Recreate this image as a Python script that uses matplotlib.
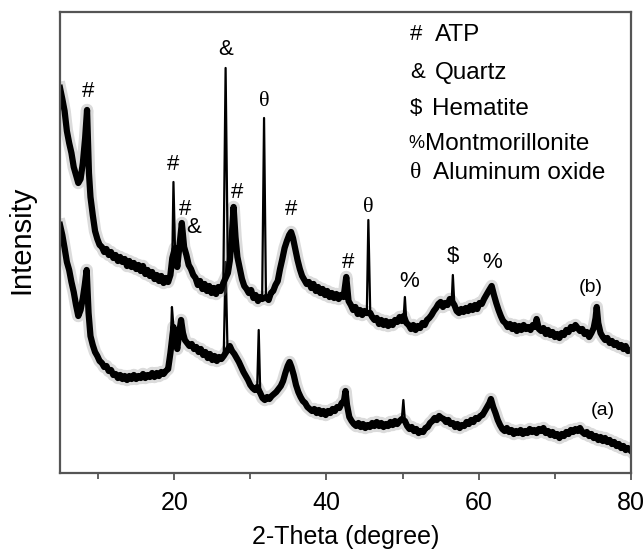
import matplotlib
matplotlib.use("Agg")
import matplotlib.pyplot as plt
from matplotlib.ticker import MultipleLocator

plt.rcParams["font.family"] = ["Liberation Sans", "DejaVu Sans"]

# XRD pattern (b), 2-theta in degree and intensity (a.u.)
theta_b = [5.0, 5.3, 5.6, 5.9, 6.2, 6.5, 6.8, 7.1, 7.4, 7.7,
           8.0, 8.3, 8.55, 8.8, 9.0, 9.3, 9.6, 9.9, 10.2, 10.5,
           10.8, 11.1, 11.4, 11.7, 12.0, 12.3, 12.6, 12.9, 13.2, 13.5,
           13.8, 14.1, 14.4, 14.7, 15.0, 15.3, 15.6, 15.9, 16.2, 16.5,
           16.8, 17.1, 17.4, 17.7, 18.0, 18.3, 18.6, 18.9, 19.2, 19.5,
           19.75, 19.9, 20.1, 20.4, 20.7, 21.0, 21.3, 21.6, 21.9, 22.2,
           22.5, 22.8, 23.1, 23.4, 23.7, 24.0, 24.3, 24.6, 24.9, 25.2,
           25.5, 25.8, 26.1, 26.45, 26.75, 27.05, 27.3, 27.55, 27.8, 28.05,
           28.3, 28.6, 28.9, 29.2, 29.5, 29.8, 30.1, 30.4, 30.7, 31.0,
           31.3, 31.55, 31.8, 32.05, 32.4, 32.7, 33.0, 33.3, 33.6, 33.9,
           34.2, 34.5, 34.8, 35.1, 35.35, 35.6, 35.9, 36.2, 36.5, 36.8,
           37.1, 37.4, 37.7, 38.0, 38.3, 38.6, 38.9, 39.2, 39.5, 39.8,
           40.1, 40.4, 40.7, 41.0, 41.3, 41.6, 41.9, 42.25, 42.6, 42.9,
           43.2, 43.5, 43.8, 44.1, 44.4, 44.7, 45.0, 45.3, 45.5, 45.75,
           46.0, 46.3, 46.6, 46.9, 47.2, 47.5, 47.8, 48.1, 48.4, 48.7,
           49.0, 49.3, 49.6, 49.9, 50.15, 50.3, 50.5, 50.8, 51.1, 51.4,
           51.7, 52.0, 52.3, 52.6, 52.9, 53.2, 53.5, 53.8, 54.1, 54.4,
           54.7, 55.0, 55.3, 55.6, 55.9, 56.2, 56.45, 56.6, 56.8, 57.1,
           57.4, 57.7, 58.0, 58.3, 58.6, 58.9, 59.2, 59.5, 59.8, 60.1,
           60.4, 60.7, 61.0, 61.3, 61.7, 62.0, 62.3, 62.6, 62.9, 63.2,
           63.5, 63.8, 64.1, 64.4, 64.7, 65.0, 65.3, 65.6, 65.9, 66.2,
           66.5, 66.8, 67.1, 67.4, 67.6, 67.9, 68.2, 68.5, 68.8, 69.1,
           69.4, 69.7, 70.0, 70.3, 70.6, 70.9, 71.2, 71.5, 71.8, 72.1,
           72.4, 72.7, 73.0, 73.3, 73.6, 73.9, 74.2, 74.5, 74.8, 75.1,
           75.35, 75.5, 75.7, 76.0, 76.3, 76.6, 76.9, 77.2, 77.5, 77.8,
           78.1, 78.4, 78.7, 79.0, 79.3, 79.6, 80.0]
intensity_b = [385, 374, 362, 342, 330, 320, 306, 298, 290, 294,
               310, 335, 363, 300, 276, 258, 242, 234, 228, 226,
               221, 224, 218, 221, 215, 218, 212, 216, 211, 214,
               207, 212, 206, 210, 204, 208, 202, 207, 199, 203,
               197, 201, 194, 198, 192, 197, 190, 195, 191, 198,
               215, 291, 225, 206, 228, 250, 226, 218, 208, 204,
               198, 195, 188, 192, 184, 189, 182, 187, 180, 185,
               179, 186, 182, 190, 405, 200, 212, 235, 266, 236,
               216, 205, 194, 187, 184, 180, 183, 175, 178, 172,
               176, 174, 355, 176, 173, 180, 182, 188, 192, 204,
               214, 225, 232, 238, 241, 235, 224, 213, 204, 197,
               193, 189, 191, 185, 189, 182, 186, 180, 184, 178,
               182, 176, 180, 175, 179, 174, 178, 176, 196, 172,
               168, 163, 166, 159, 163, 158, 162, 160, 253, 160,
               156, 153, 155, 149, 153, 148, 152, 147, 151, 148,
               153, 151, 156, 152, 157, 176, 150, 148, 144, 148,
               143, 147, 145, 150, 148, 153, 155, 158, 162, 165,
               169, 171, 166, 170, 168, 174, 172, 198, 168, 162,
               160, 164, 161, 165, 162, 167, 163, 168, 164, 170,
               169, 174, 178, 182, 187, 178, 170, 163, 157, 152,
               150, 146, 149, 144, 148, 142, 147, 143, 148, 144,
               146, 143, 148, 146, 154, 144, 142, 145, 139, 143,
               138, 141, 136, 139, 135, 140, 138, 143, 141, 146,
               144, 148, 145, 142, 144, 139, 141, 136, 140, 145,
               155, 166, 150, 140, 136, 133, 135, 130, 132, 128,
               130, 126, 128, 124, 127, 122, 123]

# XRD pattern (a)
theta_a = [5.0, 5.3, 5.6, 5.9, 6.2, 6.5, 6.8, 7.1, 7.4, 7.7,
           8.0, 8.25, 8.5, 8.75, 9.0, 9.3, 9.6, 9.9, 10.2, 10.5,
           10.8, 11.1, 11.4, 11.7, 12.0, 12.3, 12.6, 12.9, 13.2, 13.5,
           13.8, 14.1, 14.4, 14.7, 15.0, 15.3, 15.6, 15.9, 16.2, 16.5,
           16.8, 17.1, 17.4, 17.7, 18.0, 18.3, 18.6, 18.9, 19.2, 19.5,
           19.7, 19.9, 20.1, 20.4, 20.65, 20.9, 21.15, 21.4, 21.7, 22.0,
           22.3, 22.6, 22.9, 23.2, 23.5, 23.8, 24.1, 24.4, 24.7, 25.0,
           25.3, 25.6, 25.9, 26.2, 26.5, 26.75, 27.0, 27.3, 27.6, 27.9,
           28.2, 28.5, 28.8, 29.1, 29.4, 29.7, 30.0, 30.3, 30.6, 30.9,
           31.1, 31.3, 31.6, 31.9, 32.2, 32.5, 32.8, 33.1, 33.4, 33.7,
           34.0, 34.3, 34.6, 34.9, 35.15, 35.4, 35.7, 36.0, 36.3, 36.6,
           36.9, 37.2, 37.5, 37.8, 38.1, 38.4, 38.7, 39.0, 39.3, 39.6,
           39.9, 40.2, 40.5, 40.8, 41.1, 41.4, 41.7, 42.0, 42.3, 42.5,
           42.7, 43.0, 43.3, 43.6, 43.9, 44.2, 44.5, 44.8, 45.1, 45.4,
           45.7, 46.0, 46.3, 46.6, 46.9, 47.2, 47.5, 47.8, 48.1, 48.4,
           48.7, 49.0, 49.3, 49.6, 49.9, 50.1, 50.3, 50.6, 50.9, 51.2,
           51.5, 51.8, 52.1, 52.4, 52.7, 53.0, 53.3, 53.6, 53.9, 54.2,
           54.5, 54.8, 55.1, 55.4, 55.7, 56.0, 56.3, 56.6, 56.9, 57.2,
           57.5, 57.8, 58.1, 58.4, 58.7, 59.0, 59.3, 59.6, 59.9, 60.2,
           60.5, 60.8, 61.1, 61.4, 61.6, 61.9, 62.2, 62.5, 62.8, 63.1,
           63.4, 63.7, 64.0, 64.3, 64.6, 64.9, 65.2, 65.5, 65.8, 66.1,
           66.4, 66.7, 67.0, 67.3, 67.6, 67.9, 68.2, 68.5, 68.8, 69.1,
           69.4, 69.7, 70.0, 70.3, 70.6, 70.9, 71.2, 71.5, 71.8, 72.1,
           72.4, 72.7, 73.0, 73.3, 73.6, 73.9, 74.2, 74.5, 74.8, 75.1,
           75.4, 75.7, 76.0, 76.3, 76.6, 76.9, 77.2, 77.5, 77.8, 78.1,
           78.4, 78.7, 79.0, 79.3, 79.6, 80.0]
intensity_a = [248, 238, 225, 211, 203, 191, 181, 168, 157, 163,
               175, 188, 203, 160, 137, 128, 121, 117, 112, 110,
               106, 107, 102, 103, 98, 99, 95, 98, 94, 97,
               93, 97, 94, 98, 94, 97, 95, 99, 95, 98,
               96, 100, 96, 100, 97, 101, 99, 102, 104, 120,
               166, 146, 136, 124, 140, 153, 140, 133, 130, 127,
               129, 124, 126, 121, 124, 118, 121, 115, 119, 113,
               117, 112, 116, 114, 117, 211, 123, 127, 122, 119,
               115, 111, 106, 101, 97, 93, 88, 85, 83, 86,
               143, 80, 75, 73, 76, 74, 77, 79, 81, 84,
               87, 92, 100, 107, 111, 106, 98, 88, 81, 76,
               72, 70, 66, 64, 62, 64, 60, 63, 59, 62,
               58, 62, 60, 64, 62, 66, 65, 70, 72, 82,
               68, 56, 52, 49, 47, 50, 46, 49, 45, 48,
               46, 50, 47, 51, 47, 50, 46, 49, 47, 51,
               48, 52, 49, 52, 54, 73, 52, 47, 44, 46,
               42, 44, 40, 42, 41, 45, 46, 50, 52, 55,
               53, 57, 55, 54, 51, 53, 49, 50, 46, 49,
               45, 48, 47, 51, 49, 53, 51, 55, 54, 57,
               58, 62, 66, 70, 74, 66, 60, 53, 48, 44,
               42, 45, 41, 43, 39, 42, 40, 43, 39, 42,
               40, 44, 41, 43, 40, 44, 42, 45, 40, 42,
               38, 41, 37, 39, 35, 39, 37, 41, 39, 43,
               41, 44, 42, 45, 41, 39, 41, 37, 39, 35,
               37, 33, 36, 32, 35, 31, 33, 29, 31, 27,
               29, 25, 27, 23, 25, 22]

# very narrow reflections (drawn only with the thin line)
sharp_b = [19.9, 26.75, 31.8, 45.5, 50.3, 56.6]
sharp_a = [19.7, 26.75, 31.1, 50.1]

# peak markers: symbol, 2-theta, intensity
peak_symbols = ["#", "#", "#", "&", "&", "#", "θ", "#", "#", "θ", "%", "$", "%"]
peak_theta = [8.7, 19.9, 21.4, 22.6, 26.7, 28.3, 31.8, 35.4, 42.8, 45.5, 50.9, 56.6, 61.8]
peak_height = [381, 308, 263, 245, 423, 280, 371, 263, 210, 265, 191, 216, 210]

legend_symbols = ["#", "&", "$", "%", "θ"]
legend_names = ["ATP", "Quartz", "Hematite", "Montmorillonite", "Aluminum oxide"]

assert len(theta_b) == len(intensity_b)
assert len(theta_a) == len(intensity_a)

fig = plt.figure(figsize=(6.44, 5.49), dpi=100)
ax = fig.add_axes([0.0932, 0.1384, 0.8866, 0.8398])

for t, y, sharp in [(theta_a, intensity_a, sharp_a), (theta_b, intensity_b, sharp_b)]:
    band = [(ti, yi) for ti, yi in zip(t, y) if ti not in sharp]
    bt = [p[0] for p in band]
    by = [p[1] for p in band]
    ax.plot(bt, by, color="#888888", lw=9, alpha=0.3)
    ax.plot(bt, by, color="black", lw=4.5)
    ax.plot(t, y, color="black", lw=1.6)

def sym_family(s):
    return ["Liberation Serif", "DejaVu Serif"] if s == "θ" else ["Liberation Sans"]

for s, t, h in zip(peak_symbols, peak_theta, peak_height):
    ax.text(t, h, s, ha="center", va="center", fontsize=16, family=sym_family(s))

ax.text(74.7, 185, "(b)", ha="center", va="center", fontsize=14)
ax.text(76.3, 63, "(a)", ha="center", va="center", fontsize=14)

# legend written as a text block
leg_y = [438, 400, 364, 329, 300]
sym_x = [51.0, 51.0, 51.0, 50.7, 51.0]
sym_size = [16, 16, 16, 13, 17]
name_x = [54.3, 54.3, 53.8, 53.0, 54.0]
for s, name, yy, sx, ss, nx in zip(legend_symbols, legend_names, leg_y, sym_x, sym_size, name_x):
    ax.text(sx, yy, s, ha="left", va="center", fontsize=ss, family=sym_family(s))
    ax.text(nx, yy, name, ha="left", va="center", fontsize=17.5)

ax.set_xlim(5, 80)
ax.set_ylim(0, 461)
ax.xaxis.set_major_locator(MultipleLocator(20))
ax.xaxis.set_minor_locator(MultipleLocator(10))
ax.set_yticks([])
ax.tick_params(axis="x", which="both", direction="out", labelsize=18, color="#555555")
ax.tick_params(axis="x", which="major", length=5, width=1.3, pad=8)
ax.tick_params(axis="x", which="minor", length=4, width=1.3)
for sp in ax.spines.values():
    sp.set_color("#555555")
    sp.set_linewidth(1.6)

ax.set_xlabel("2-Theta (degree)", fontsize=18)
ax.set_ylabel("Intensity", fontsize=21)
ax.xaxis.set_label_coords(0.5, -0.112)
ax.yaxis.set_label_coords(-0.044, 0.505)

fig.savefig("out.png", dpi=100)
